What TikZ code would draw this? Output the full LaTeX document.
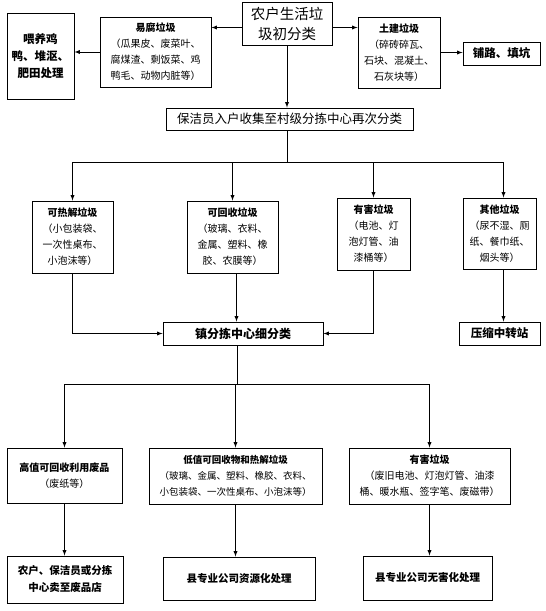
\documentclass[tikz,border=0pt]{standalone}
\usepackage{fontspec}
\setmainfont{Noto Sans CJK SC}
\begin{document}
\begin{tikzpicture}[x=1pt, y=-1pt, >=latex]

\tikzstyle{every node} = [rectangle, inner sep=1pt, align=center, font=\fontsize{10}{16}\selectfont]
\tikzstyle{box} = [draw, line width=0.9pt, fill=white]
\tikzstyle{link} = [line width=0.9pt]

\useasboundingbox (0,0) rectangle (546,611);

\node[box, minimum width=90, minimum height=43, font=\fontsize{14.5}{20}\selectfont] (init) at (287,23.5) {农户生活垃\\圾初分类};
\node[box, minimum width=111, minimum height=70] (rot) at (155.5,52) {\textbf{易腐垃圾}\\（瓜果皮、废菜叶、\\腐煤渣、剩饭菜、鸡\\鸭毛、动物内脏等）};
\node[box, minimum width=67, minimum height=86, font=\fontsize{11.5}{17}\selectfont\bfseries] (feed) at (40.5,56) {喂养鸡\\鸭、堆沤、\\肥田处理};
\node[box, minimum width=82, minimum height=71] (build) at (399,52.5) {\textbf{土建垃圾}\\（碎砖碎瓦、\\石块、混凝土、\\石灰块等）};
\node[box, minimum width=77, minimum height=23, font=\fontsize{11.5}{14}\selectfont\bfseries] (road) at (501.5,53.5) {铺路、填坑};

\node[box, minimum width=247, minimum height=22, font=\fontsize{12.5}{15}\selectfont] (collect) at (289.5,119) {保洁员入户收集至村级分拣中心再次分类};

\node[box, minimum width=81, minimum height=72] (heat) at (72.5,237) {\textbf{可热解垃圾}\\（小包装袋、\\一次性桌布、\\小泡沫等）};
\node[box, minimum width=91, minimum height=72] (recyc) at (232.5,237) {\textbf{可回收垃圾}\\（玻璃、衣料、\\金属、塑料、橡\\胶、农膜等）};
\node[box, minimum width=73, minimum height=72] (haz) at (373.5,234) {\textbf{有害垃圾}\\（电池、灯\\泡灯管、油\\漆桶等）};
\node[box, minimum width=73, minimum height=71] (other) at (499.5,233.5) {\textbf{其他垃圾}\\（尿不湿、厕\\纸、餐巾纸、\\烟头等）};

\node[box, minimum width=160, minimum height=23, font=\fontsize{12}{14}\selectfont\bfseries] (town) at (243,333.5) {镇分拣中心细分类};
\node[box, minimum width=81, minimum height=23, font=\fontsize{11.5}{14}\selectfont\bfseries] (compress) at (499.5,333.5) {压缩中转站};

\node[box, minimum width=115, minimum height=55] (high) at (64.5,475.5) {\textbf{高值可回收利用废品}\\（废纸等）};
\node[box, minimum width=173, minimum height=56, font=\fontsize{9.5}{16}\selectfont] (low) at (235.5,476) {\textbf{低值可回收物和热解垃圾}\\（玻璃、金属、塑料、橡胶、衣料、\\小包装袋、一次性桌布、小泡沫等）};
\node[box, minimum width=161, minimum height=56] (haz2) at (429.5,476) {\textbf{有害垃圾}\\（废旧电池、灯泡灯管、油漆\\桶、暖水瓶、签字笔、废磁带）};

\node[box, minimum width=116, minimum height=47, font=\fontsize{10.5}{17}\selectfont\bfseries] (sell) at (65,579.5) {农户、保洁员或分拣\\中心卖至废品店};
\node[box, minimum width=152, minimum height=43, font=\fontsize{10.5}{14}\selectfont\bfseries] (res) at (239,578.5) {县专业公司资源化处理};
\node[box, minimum width=129, minimum height=44, font=\fontsize{10.5}{14}\selectfont\bfseries] (safe) at (427.5,578) {县专业公司无害化处理};

\coordinate (split1) at (287,162);
\coordinate (split2) at (237,384);

\draw[link,->] ([yshift=-4pt]init.west) -- ([yshift=-4pt]init.west -| rot.east);
\draw[link,->] (rot.west) -- (rot.west -| feed.east);
\draw[link,->] ([yshift=-4pt]init.east) -- ([yshift=-4pt]init.east -| build.west);
\draw[link,->] (build.east) -- (build.east -| road.west);
\draw[link,->] (init.south) -- (init.south |- collect.north);

\draw[link] (init.south |- collect.south) -- (split1);
\draw[link] (split1 -| heat.north) -- ([xshift=4pt]split1 -| other.north);
\draw[link,->] (split1 -| heat.north) -- (heat.north);
\draw[link,->] (split1 -| recyc.north) -- (recyc.north);
\draw[link,->] (split1 -| haz.north) -- (haz.north);
\draw[link,->] ([xshift=4pt]split1 -| other.north) -- ([xshift=4pt]other.north);

\draw[link,->] (heat.south) |- (town.west);
\draw[link,->] ([xshift=4pt]recyc.south) -- ([xshift=4pt]recyc.south |- town.north);
\draw[link,->] (haz.south) |- (town.east);
\draw[link,->] ([xshift=4pt]other.south) -- ([xshift=4pt]other.south |- compress.north);

\draw[link] (town.south -| split2) -- (split2);
\draw[link] (split2 -| high.north) -- (split2 -| haz2.north);
\draw[link,->] (split2 -| high.north) -- (high.north);
\draw[link,->] (split2 -| low.north) -- (low.north);
\draw[link,->] (split2 -| haz2.north) -- (haz2.north);

\draw[link,->] (high.south) -- (high.south |- sell.north);
\draw[link,->] (low.south) -- (low.south |- res.north);
\draw[link,->] (haz2.south) -- (haz2.south |- safe.north);
\end{tikzpicture}
\end{document}
